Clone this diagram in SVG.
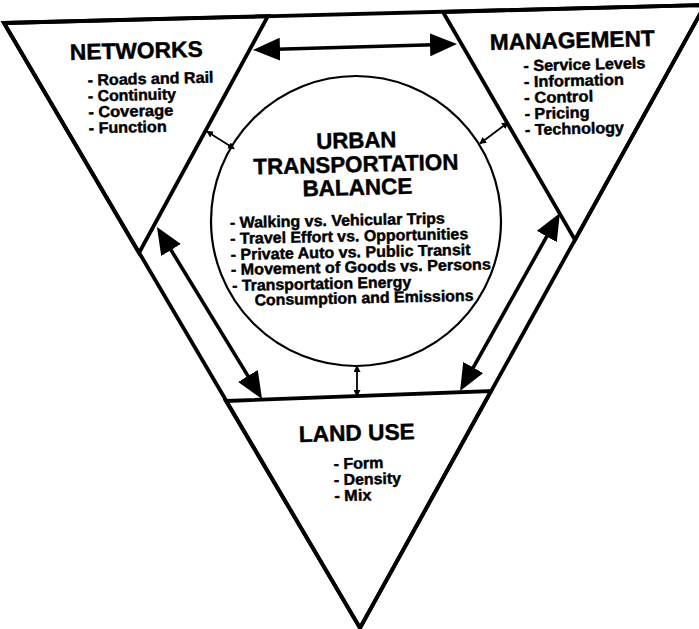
<svg xmlns="http://www.w3.org/2000/svg" width="699" height="629" viewBox="0 0 699 629">
  <style>
    .edge { fill: none; stroke: #000; stroke-width: 3.8; stroke-linejoin: miter; stroke-miterlimit: 10; }
    .hub { fill: none; stroke: #000; stroke-width: 2.2; }
    .big { stroke: #000; stroke-width: 3.6; fill: none; }
    .small { stroke: #000; stroke-width: 1.8; fill: none; }
    text { font-family: "Liberation Sans", Arial, Helvetica, sans-serif; font-weight: bold; fill: #000; stroke: #000; stroke-width: 0.45; }
    .head { font-size: 22.5px; }
    .item { font-size: 15.8px; }
  </style>
  <defs>
    <marker id="bigHead" viewBox="0 0 27 23" markerWidth="27" markerHeight="23" refX="21" refY="11.5" markerUnits="userSpaceOnUse" orient="auto-start-reverse">
      <path d="M0,0 L27,11.5 L0,23 Z" fill="#000"/>
    </marker>
    <marker id="smallHead" viewBox="0 0 7 7" markerWidth="7" markerHeight="7" refX="6" refY="3.5" markerUnits="userSpaceOnUse" orient="auto-start-reverse">
      <path d="M0,0 L7,3.5 L0,7 Z" fill="#000"/>
    </marker>
  </defs>

  <rect width="699" height="629" fill="#fff"/>

  <!-- outer frame: large inverted triangle -->
  <g id="frame">
    <polygon class="edge" points="4,23 705,5 360,628"/>
  </g>

  <!-- corner triangles -->
  <g id="networks">
    <polygon class="edge" points="4,23 268,16 139,253"/>
    <g transform="rotate(-1.4 70 60)">
      <text class="head" x="70" y="60" textLength="133" lengthAdjust="spacingAndGlyphs">NETWORKS</text>
      <text class="item" x="87" y="86" textLength="126" lengthAdjust="spacingAndGlyphs">- Roads and Rail</text>
      <text class="item" x="87" y="102" textLength="88" lengthAdjust="spacingAndGlyphs">- Continuity</text>
      <text class="item" x="87" y="118" textLength="85" lengthAdjust="spacingAndGlyphs">- Coverage</text>
      <text class="item" x="87" y="134" textLength="78" lengthAdjust="spacingAndGlyphs">- Function</text>
    </g>
  </g>

  <g id="management">
    <polygon class="edge" points="443,12 705,5 575,240"/>
    <g transform="rotate(-1.4 490 50)">
      <text class="head" x="490" y="50" textLength="165" lengthAdjust="spacingAndGlyphs">MANAGEMENT</text>
      <text class="item" x="523" y="72" textLength="122" lengthAdjust="spacingAndGlyphs">- Service Levels</text>
      <text class="item" x="523" y="88" textLength="100" lengthAdjust="spacingAndGlyphs">- Information</text>
      <text class="item" x="523" y="104" textLength="69" lengthAdjust="spacingAndGlyphs">- Control</text>
      <text class="item" x="523" y="120" textLength="65" lengthAdjust="spacingAndGlyphs">- Pricing</text>
      <text class="item" x="523" y="136" textLength="99" lengthAdjust="spacingAndGlyphs">- Technology</text>
    </g>
  </g>

  <g id="land-use">
    <polygon class="edge" points="226,401 491,391 360,628"/>
    <g transform="rotate(-1.4 299 442)">
      <text class="head" x="299" y="442" textLength="116" lengthAdjust="spacingAndGlyphs">LAND USE</text>
      <text class="item" x="333" y="470" textLength="50" lengthAdjust="spacingAndGlyphs">- Form</text>
      <text class="item" x="333" y="486" textLength="67" lengthAdjust="spacingAndGlyphs">- Density</text>
      <text class="item" x="333" y="502" textLength="37" lengthAdjust="spacingAndGlyphs">- Mix</text>
    </g>
  </g>

  <!-- central circle -->
  <g id="balance">
    <circle class="hub" cx="356" cy="221" r="145"/>
    <g transform="rotate(-1.4 356 170)">
      <text class="head" x="357" y="148" text-anchor="middle" textLength="80" lengthAdjust="spacingAndGlyphs">URBAN</text>
      <text class="head" x="356" y="172" text-anchor="middle" textLength="205" lengthAdjust="spacingAndGlyphs">TRANSPORTATION</text>
      <text class="head" x="357" y="195" text-anchor="middle" textLength="110" lengthAdjust="spacingAndGlyphs">BALANCE</text>
    </g>
    <g transform="rotate(-1.2 230 228)">
      <text class="item" x="230" y="228" textLength="215" lengthAdjust="spacingAndGlyphs">- Walking vs. Vehicular Trips</text>
      <text class="item" x="230" y="244" textLength="238" lengthAdjust="spacingAndGlyphs">- Travel Effort vs. Opportunities</text>
      <text class="item" x="230" y="260" textLength="240" lengthAdjust="spacingAndGlyphs">- Private Auto vs. Public Transit</text>
      <text class="item" x="230" y="275" textLength="260" lengthAdjust="spacingAndGlyphs">- Movement of Goods vs. Persons</text>
      <text class="item" x="231" y="291" textLength="179" lengthAdjust="spacingAndGlyphs">- Transportation Energy</text>
      <text class="item" x="253" y="306" textLength="219" lengthAdjust="spacingAndGlyphs">Consumption and Emissions</text>
    </g>
  </g>

  <!-- connectors -->
  <g id="connectors">
    <!-- heavy two-way arrows between the corner triangles -->
    <line class="big" x1="259" y1="49.8" x2="451" y2="44.2" marker-start="url(#bigHead)" marker-end="url(#bigHead)"/>
    <line class="big" x1="160.1" y1="232.1" x2="258.9" y2="393.9" marker-start="url(#bigHead)" marker-end="url(#bigHead)"/>
    <line class="big" x1="557" y1="218.2" x2="463" y2="385.8" marker-start="url(#bigHead)" marker-end="url(#bigHead)"/>
    <!-- light two-way arrows between the circle and each triangle -->
    <line class="small" x1="207" y1="131.4" x2="234" y2="148.6" marker-start="url(#smallHead)" marker-end="url(#smallHead)"/>
    <line class="small" x1="508" y1="122.5" x2="480" y2="143.5" marker-start="url(#smallHead)" marker-end="url(#smallHead)"/>
    <line class="small" x1="357" y1="366" x2="357" y2="396" marker-start="url(#smallHead)" marker-end="url(#smallHead)"/>
  </g>
</svg>
